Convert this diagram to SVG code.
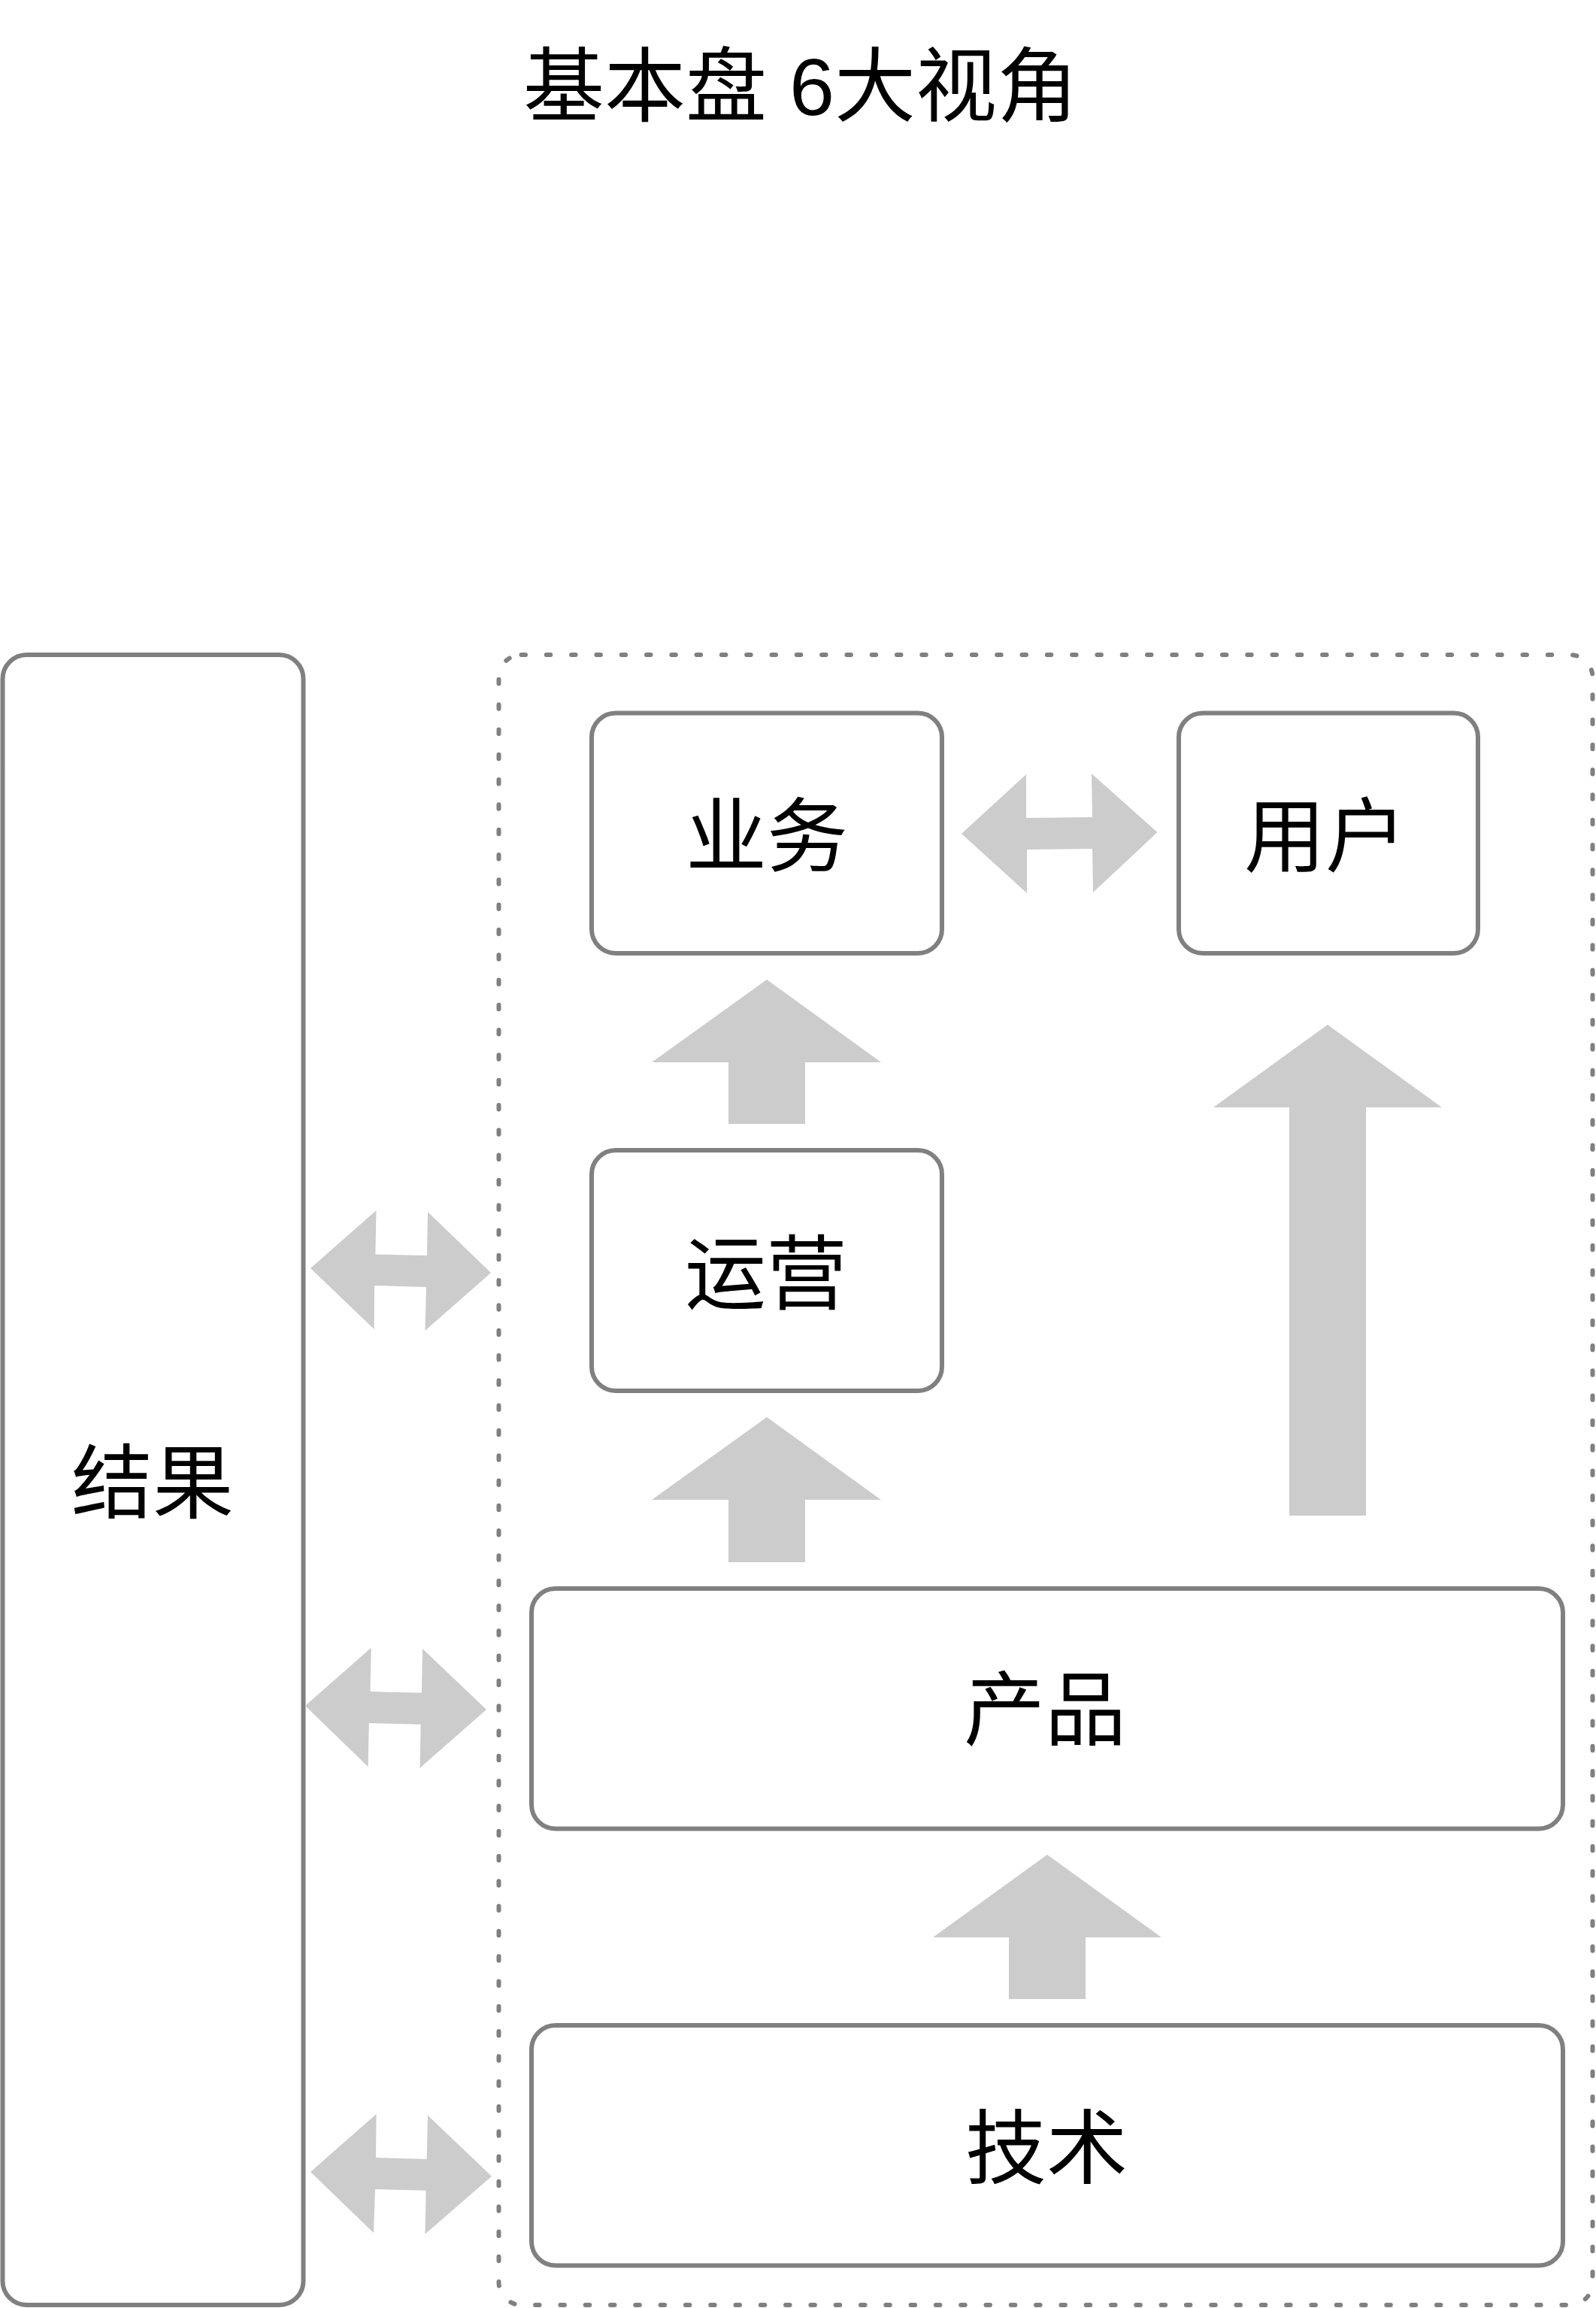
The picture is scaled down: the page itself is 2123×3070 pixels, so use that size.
<svg xmlns="http://www.w3.org/2000/svg" width="2123" height="3070" viewBox="0 0 2123 3070">
<style>
.box{fill:#ffffff;stroke:#808080;stroke-width:6}
.group{fill:none;stroke:#808080;stroke-width:6;stroke-dasharray:5.5 27.8;stroke-linecap:round}
.arrow{fill:#cccccc;stroke:none}
.label{font-family:"Liberation Sans","Noto Sans CJK SC",sans-serif;font-size:108px;fill:#000000;text-anchor:middle}
</style>
<rect width="2123" height="3070" fill="#ffffff"/>
<text id="title" class="label" x="1065" y="153">基本盘 6大视角</text>
<g id="container">
<rect class="group" x="663.5" y="871" width="1455" height="2195" rx="30" ry="30"/>
</g>
<g id="node-result">
<rect class="box" x="3.5" y="871" width="400" height="2195" rx="32" ry="32"/>
<text class="label" x="203" y="2011">结果</text>
</g>
<g id="node-business">
<rect class="box" x="787" y="948.5" width="466" height="319.5" rx="32" ry="32"/>
<text class="label" x="1020" y="1151">业务</text>
</g>
<g id="node-user">
<rect class="box" x="1568" y="948.5" width="398" height="319.5" rx="32" ry="32"/>
<text class="label" x="1763" y="1151">用户</text>
</g>
<g id="node-operation">
<rect class="box" x="787" y="1530" width="466" height="320" rx="32" ry="32"/>
<text class="label" x="1019" y="1733">运营</text>
</g>
<g id="node-product">
<rect class="box" x="707" y="2113" width="1372" height="319.5" rx="32" ry="32"/>
<text class="label" x="1390" y="2313">产品</text>
</g>
<g id="node-tech">
<rect class="box" x="707" y="2694" width="1372" height="319.5" rx="32" ry="32"/>
<text class="label" x="1392" y="2896">技术</text>
</g>
<g id="connectors">
<polygon class="arrow" points="1279,1109 1365,1030 1365,1088 1453,1087 1452,1029 1539.5,1107 1454,1187 1453,1129 1366,1130 1366,1188"/>
<polygon class="arrow" points="413,1687 500.5,1610 499.4,1668.6 568,1670 569,1612 653,1693 565.4,1770 567,1712 498,1710 497.7,1768"/>
<polygon class="arrow" points="406,2269 493.7,2191.7 492.5,2250 561,2251.7 562,2193 647,2274 558.5,2351.7 559.7,2293.7 490.8,2292 489.6,2350"/>
<polygon class="arrow" points="413,2889 500.6,2812 500,2870 567.7,2872 569,2813.7 654,2894.7 565.4,2971.7 566.6,2913.7 499,2912 497,2970"/>
<polygon class="arrow" points="1020,1303 1172,1413 1071,1413 1071,1495 969,1495 969,1413 867,1413"/>
<polygon class="arrow" points="1020,1885 1172,1995 1071,1995 1071,2078 969,2078 969,1995 867,1995"/>
<polygon class="arrow" points="1766,1363 1918,1473 1817,1473 1817,2016 1715,2016 1715,1473 1614,1473"/>
<polygon class="arrow" points="1393,2467 1545,2577 1444,2577 1444,2659 1342,2659 1342,2577 1241,2577"/>
</g>
</svg>
